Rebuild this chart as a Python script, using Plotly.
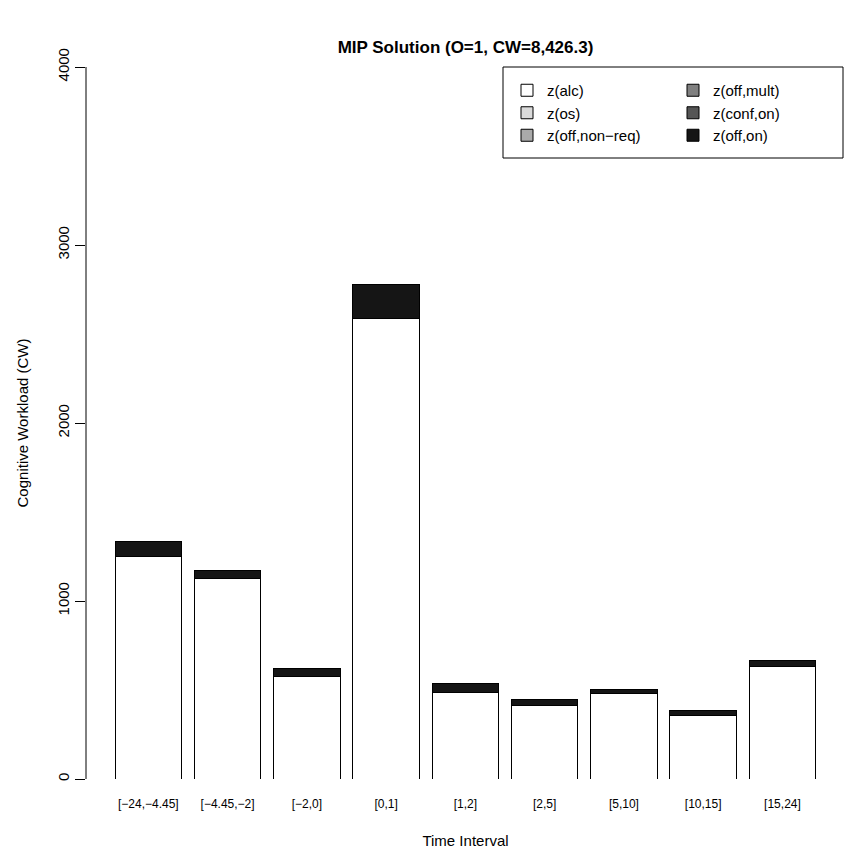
import plotly.graph_objects as go

categories = ["[−24,−4.45]", "[−4.45,−2]", "[−2,0]", "[0,1]", "[1,2]",
              "[2,5]", "[5,10]", "[10,15]", "[15,24]"]

z_alc = [1249, 1125, 578, 2586, 485, 412, 479, 358, 633]
z_os = [0, 0, 0, 0, 0, 0, 0, 0, 0]
z_off_nonreq = [0, 0, 0, 0, 0, 0, 0, 0, 0]
z_off_mult = [0, 0, 0, 0, 0, 0, 0, 0, 0]
z_conf_on = [0, 0, 0, 0, 0, 0, 0, 0, 0]
z_off_on = [84, 49, 44, 193, 49, 36, 25, 26, 34]

series_names = ["z(alc)", "z(os)", "z(off,non−req)", "z(off,mult)", "z(conf,on)", "z(off,on)"]
series_values = [z_alc, z_os, z_off_nonreq, z_off_mult, z_conf_on, z_off_on]
series_colors = ["#FFFFFF", "#DADADA", "#AAAAAA", "#808080", "#555555", "#151515"]
series_legend = ["legend", "legend", "legend", "legend2", "legend2", "legend2"]

y_ticks = [0, 1000, 2000, 3000, 4000]

W, H = 845, 853
L, R, T, B = 86, 0, 67, 853 - 779
PW, PH = W - L - R, H - T - B


def px_x(p):
    return (p - L) / PW


def px_y(p):
    return (H - B - p) / PH


fig = go.Figure()
xs = list(range(len(categories)))
for name, vals, col, lg in zip(series_names, series_values, series_colors, series_legend):
    fig.add_trace(go.Bar(
        x=xs, y=vals, name=name,
        marker=dict(color=col, line=dict(color="#000000", width=1)),
        legend=lg,
    ))

legend_common = dict(orientation="v", xanchor="left", yanchor="top",
                      font=dict(size=15), bgcolor="rgba(0,0,0,0)",
                      borderwidth=0, traceorder="normal")

fig.update_layout(
    width=W, height=H,
    barmode="stack", bargap=0.16,
    plot_bgcolor="white", paper_bgcolor="white",
    margin=dict(l=L, r=R, t=T, b=B),
    font=dict(family="Liberation Sans, Arial, sans-serif", color="black"),
    title=dict(text="<b>MIP Solution (O=1, CW=8,426.3)</b>",
               x=(L + PW / 2) / W, xanchor="center",
               y=1 - 47 / H, yanchor="middle", yref="container",
               font=dict(size=17, color="black")),
    showlegend=True,
    legend=dict(x=px_x(507), y=px_y(74), **legend_common),
    legend2=dict(x=px_x(673), y=px_y(74), **legend_common),
)

fig.update_xaxes(
    range=[-0.786, 8.789],
    tickvals=xs, ticktext=categories,
    tickfont=dict(size=12),
    ticks="outside", ticklen=14, tickcolor="rgba(0,0,0,0)",
    showline=False, showgrid=False, zeroline=False,
    title=dict(text="Time Interval", font=dict(size=15), standoff=25),
)

fig.update_yaxes(
    range=[0, 4000],
    tickvals=y_ticks, ticktext=[str(v) for v in y_ticks],
    tickangle=-90, tickfont=dict(size=15),
    ticks="outside", ticklen=10, tickcolor="black", tickwidth=1,
    showline=False, showgrid=False, zeroline=False,
    title=dict(text="Cognitive Workload (CW)", font=dict(size=15), standoff=22),
)

# y-axis line spanning only the tick range
fig.add_shape(type="line", xref="paper", yref="y", x0=0, x1=0,
              y0=y_ticks[0], y1=y_ticks[-1], line=dict(color="black", width=1))

# legend frame
fig.add_shape(type="rect", xref="paper", yref="paper",
              x0=px_x(503), x1=px_x(843), y0=px_y(158), y1=px_y(67),
              line=dict(color="black", width=1), fillcolor="rgba(0,0,0,0)")

fig.write_html("out.html")
